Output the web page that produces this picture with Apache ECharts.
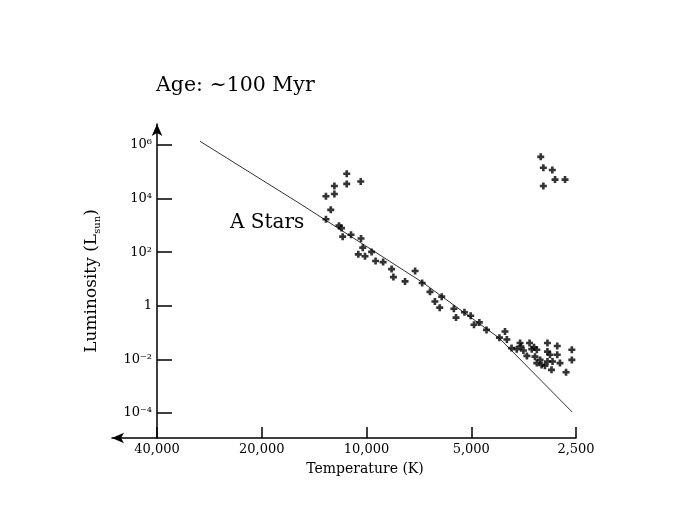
<!DOCTYPE html>
<html>
<head>
<meta charset="utf-8">
<title>Age ~100 Myr</title>
<script src="https://cdn.jsdelivr.net/npm/echarts@6/dist/echarts.min.js"></script>
<style>
  html, body { margin: 0; background: #fff; }
  #chart { width: 681px; height: 508px; }
</style>
</head>
<body>
<div id="chart"></div>
<script>
// star temperatures (K) and log10 luminosity (L_sun)
const starTemp = [
  3157, 3103, 2924, 2872, 2688, 3103,
  11400, 11400, 10390, 12370, 12370, 13080, 12670,
  13080, 12000, 11800, 11710, 11080, 10370, 10250, 10560, 10100, 9670,
  9420, 8960, 8470, 8370, 7750, 7250, 6920, 6570, 6080, 6360, 6160,
  5610, 5530, 5230, 5020, 4910, 4740, 4520, 4150, 4000, 3950,
  3830, 3700, 3620, 3540, 3400, 3350, 3240, 3020, 3020, 2970, 2830,
  2830, 2570, 2570, 3460, 3280, 3170, 3020, 2920, 2780, 3140, 3070,
  2940, 2670, 3240, 3600, 3300
];
const starLogL = [
  5.56, 5.15, 5.07, 4.71, 4.71, 4.47,
  4.93, 4.55, 4.64, 4.47, 4.17, 4.09, 3.58,
  3.23, 2.99, 2.90, 2.58, 2.65, 2.51, 2.17, 1.92, 1.85, 2.01,
  1.67, 1.63, 1.37, 1.07, 0.91, 1.30, 0.85, 0.52, 0.34, 0.16, -0.07,
  -0.11, -0.44, -0.24, -0.37, -0.71, -0.62, -0.90, -1.19, -0.96, -1.26,
  -1.58, -1.62, -1.39, -1.67, -1.39, -1.62, -1.64, -1.39, -1.71, -1.83, -1.50,
  -1.83, -1.64, -2.02, -1.87, -1.90, -2.02, -2.08, -2.08, -2.14, -2.21, -2.24,
  -2.39, -2.48, -2.14, -1.52, -1.55
];

// main sequence curve, read at a few points
const lineTemp = [30100, 15530, 6880, 4160, 2567];
const lineLogL = [6.14, 3.81, 0.86, -1.20, -3.96];

// axis ticks
const tempTicks = [40000, 20000, 10000, 5000, 2500];
const lumExp = [6, 4, 2, 0, -2, -4];
const lumLabels = ['10⁶', '10⁴', '10²', '1', '10⁻²', '10⁻⁴'];

const serif = 'DejaVu Serif';

// temperature axis runs in octaves below 40,000 K
function octave(t) {
  return Math.log2(40000 / t);
}

function withCommas(n) {
  return String(n).replace(/\B(?=(\d{3})+(?!\d))/g, ',');
}

const starData = starTemp.map((t, i) => [octave(t), starLogL[i]]);
const lineData = lineTemp.map((t, i) => [octave(t), lineLogL[i]]);
const tempTickPos = tempTicks.map(octave);

const chart = echarts.init(document.getElementById('chart'));

chart.setOption({
  backgroundColor: '#fff',
  animation: false,
  title: {
    text: 'Age: ~100 Myr',
    left: 151,
    top: 70,
    textStyle: {
      fontFamily: serif,
      fontSize: 20.5,
      fontWeight: 'normal',
      color: '#000'
    }
  },
  grid: {
    left: 112,
    right: 105,
    top: 124,
    bottom: 70
  },
  xAxis: {
    type: 'value',
    min: -0.43,
    max: 4,
    name: 'Temperature (K)',
    nameLocation: 'middle',
    nameGap: 24,
    nameTextStyle: {
      fontFamily: serif,
      fontSize: 14,
      color: '#000',
      padding: [0, 0, 0, 42]
    },
    axisLine: {
      onZero: false,
      symbol: ['arrow', 'none'],
      symbolSize: [8, 12],
      lineStyle: { color: '#000', width: 1.5 }
    },
    axisTick: {
      inside: true,
      length: 11,
      customValues: tempTickPos,
      lineStyle: { color: '#000', width: 1.5 }
    },
    axisLabel: {
      customValues: tempTickPos,
      margin: 5,
      fontFamily: serif,
      fontSize: 13,
      color: '#000',
      formatter: v => withCommas(Math.round(40000 / Math.pow(2, v) / 100) * 100)
    },
    splitLine: { show: false }
  },
  yAxis: {
    type: 'value',
    min: -4.935,
    max: 6.785,
    name: '{a|Luminosity (L}{b|sun}{a|)}',
    nameLocation: 'middle',
    nameRotate: 90,
    nameGap: 10,
    nameTextStyle: {
      color: '#000',
      rich: {
        a: { fontFamily: serif, fontSize: 17, color: '#000', lineHeight: 20 },
        b: { fontFamily: serif, fontSize: 10, color: '#000', lineHeight: 20, verticalAlign: 'bottom' }
      }
    },
    axisLine: {
      onZero: true,
      symbol: ['none', 'arrow'],
      symbolSize: [8, 12],
      lineStyle: { color: '#000', width: 1.5 }
    },
    axisTick: {
      inside: true,
      length: 15,
      customValues: lumExp,
      lineStyle: { color: '#000', width: 1.5 }
    },
    axisLabel: {
      customValues: lumExp,
      // labels follow the y axis line, which sits at 40,000 K
      margin: -40,
      fontFamily: serif,
      fontSize: 13,
      color: '#000',
      formatter: v => lumLabels[lumExp.indexOf(Math.round(v))]
    },
    splitLine: { show: false }
  },
  graphic: [
    {
      type: 'text',
      left: 230,
      top: 213,
      style: {
        text: 'A Stars',
        font: '20px "DejaVu Serif"',
        fill: '#000'
      }
    }
  ],
  series: [
    {
      name: 'Main sequence',
      type: 'line',
      data: lineData,
      showSymbol: false,
      lineStyle: { color: '#333', width: 1 },
      z: 1
    },
    {
      name: 'Stars',
      type: 'scatter',
      data: starData,
      // bold plus marker
      symbol: 'path://M2.5,0H5.5V2.5H8V5.5H5.5V8H2.5V5.5H0V2.5H2.5Z',
      symbolSize: 7,
      itemStyle: { color: '#000' },
      z: 2
    }
  ]
});
</script>
</body>
</html>
